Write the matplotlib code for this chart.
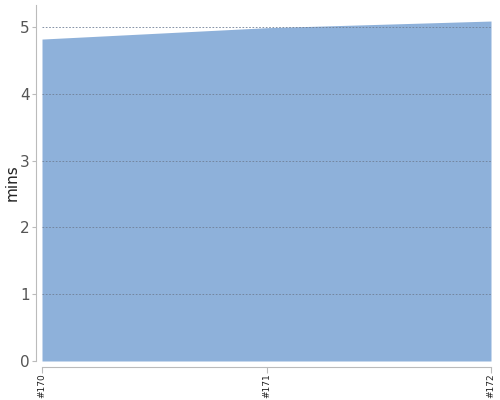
import matplotlib
matplotlib.use("Agg")
import matplotlib.pyplot as plt

categories = ["#170", "#171", "#172"]
values = [4.82, 4.99, 5.09]

fig = plt.figure(figsize=(5, 4), dpi=100)
ax = fig.add_axes([0.084, 0.0975, 0.898, 0.89])
x = list(range(len(categories)))
ax.fill_between(x, values, 0, color="#8EB1DA", linewidth=0)
ax.set_xlim(0, len(categories) - 1)
ax.set_ylim(0, 5.33)
ax.set_yticks([0, 1, 2, 3, 4, 5])
ax.set_xticks(x)
ax.set_xticklabels(categories)
ax.tick_params(axis="y", labelsize=11, labelcolor="#555555", length=3, color="#BBBBBB", pad=2)
ax.tick_params(axis="x", length=4, color="#BBBBBB", pad=1, labelrotation=90,
               labelsize=6.5, labelcolor="#222222")
ax.grid(axis="y", linestyle=(0, (2, 2)), color="#6F7F95", linewidth=0.6)
ax.set_axisbelow(False)
for s in ["top", "right"]:
    ax.spines[s].set_visible(False)
ax.spines["left"].set_position(("outward", 4))
ax.spines["bottom"].set_position(("outward", 4))
ax.spines["left"].set_color("#BBBBBB")
ax.spines["bottom"].set_color("#BBBBBB")
ax.set_ylabel("mins", fontsize=11, color="#222222", labelpad=0)
fig.savefig("out.png", dpi=100)
